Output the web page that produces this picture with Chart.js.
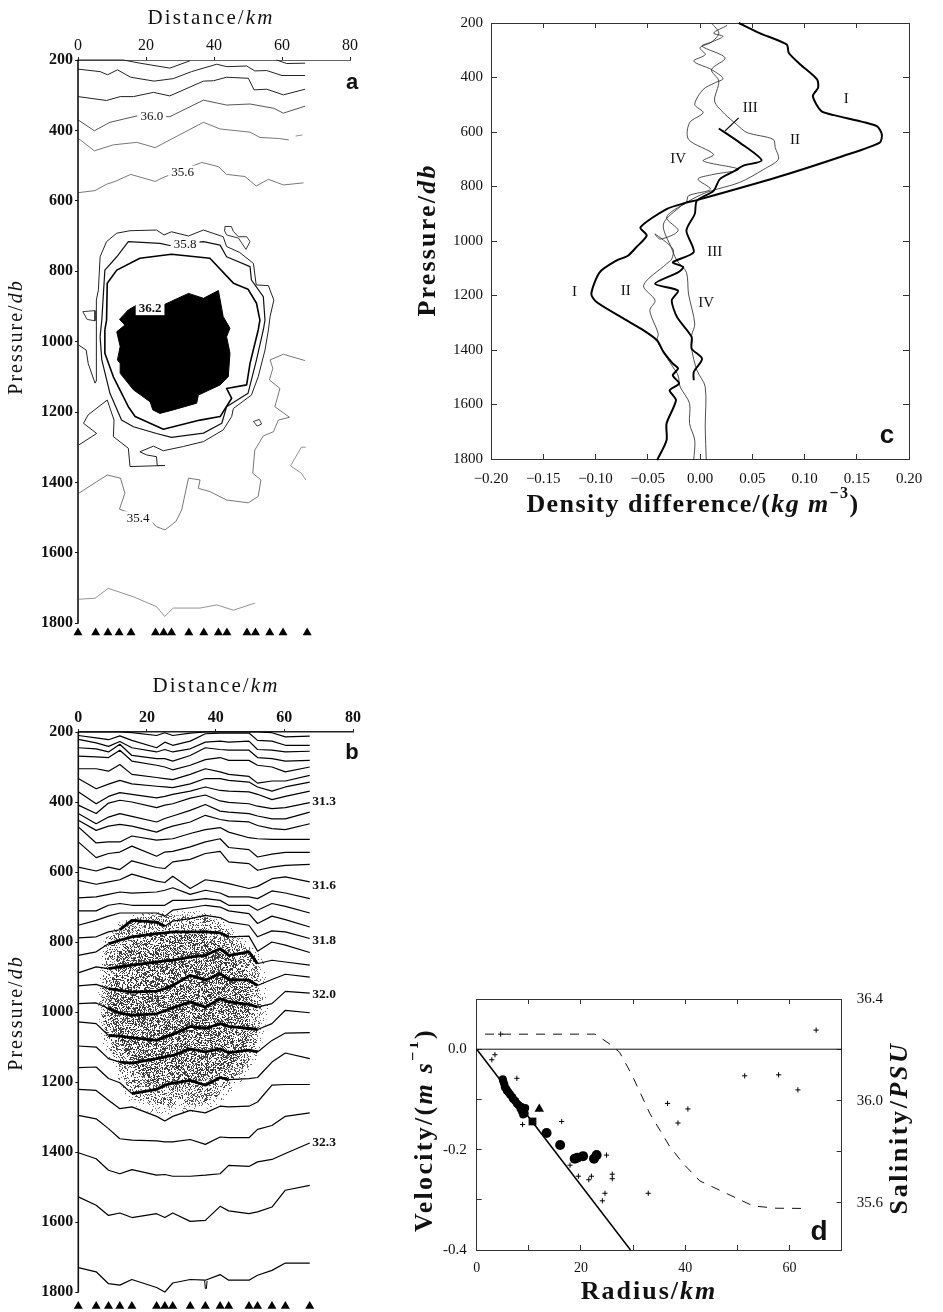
<!DOCTYPE html>
<html><head><meta charset="utf-8">
<style>html,body{margin:0;padding:0;background:#fff}body{width:943px;height:1312px;position:relative;overflow:hidden}canvas{position:absolute;display:block}</style>
<script src="https://cdn.jsdelivr.net/npm/chart.js@4"></script>
</head><body>
<canvas id="ca" width="400" height="660" style="left:0;top:0"></canvas>
<canvas id="cb" width="400" height="668" style="left:0;top:660px"></canvas>
<canvas id="cc" width="533" height="530" style="left:410px;top:0"></canvas>
<canvas id="cd" width="533" height="342" style="left:410px;top:970px"></canvas>
<script>
/* ---------- shared ---------- */
const stations=[0,5.2,8.8,12.1,15.6,22.8,25.2,27.5,32.6,37,41.3,43.8,49.7,52.2,56.4,60.3,67.4];
const pressureTicks=[200,400,600,800,1000,1200,1400,1600,1800];
const pressureAxisLine=[[0,200],[0,1800]];

/* ---------- panel a: salinity contours [km, db] ---------- */
const aC1a=[[0,200],[13.3,200],[18.2,209],[27,223],[33,202]];
const aC1b=[[58.4,200],[61.4,210],[66.8,209]];
const aC2=[[0,226],[6.5,233],[8.7,242],[11.6,228],[15.5,249],[22.4,260],[28,253],[33.4,233],[40.8,212],[43.8,219],[49.6,217],[52,231],[55.5,230],[60,244],[66.8,244]];
const aC3=[[0,304],[8.4,315],[12.4,304],[16.3,304],[22.2,292],[27,302],[36.9,260],[39.8,259],[43.7,249],[50.1,252],[51.8,285],[55.5,283],[60.4,299],[66.8,283]];
const aC4=[[0,370],[4.8,401],[9.4,377],[17.3,359],[27,361],[36.9,314],[43.7,328],[50.6,325],[57.5,337],[60.4,351],[66.8,331]];
const aC5a=[[0,422],[4.8,458],[10.4,441],[17.3,434],[22.7,449],[28,422],[36.9,377],[41.8,396],[50.6,405],[53.5,420],[59,423],[62,427]];
const aC5b=[[64,416],[66,413]];
const aC6=[[0,577],[5,571],[8.4,553],[10.9,545],[15.5,525],[22.7,545],[25,534],[36.4,491],[41.3,503],[43.7,525],[49.1,531],[52.4,558],[56,539],[60.4,555],[66.3,549]];
const aOuter=[[0.2,1010],[2.4,1024],[3,1062],[5,1118],[5.5,1109],[5.5,986],[5.3,882],[6,853],[6.5,759],[8.4,716],[11.4,692],[15.3,685],[23.1,683],[25.3,697],[27.5,688],[32.5,700],[36.9,683],[42.7,702],[43.7,730],[47.6,747],[51.6,778],[52.4,839],[56,841],[57.6,882],[56.5,929],[56,967],[55,1024],[53,1100],[51,1152],[45.7,1190],[45.2,1213],[42.7,1251],[36.9,1284],[31,1298],[25.1,1310],[22.2,1297],[18.2,1313],[20.2,1322],[23.1,1327],[23.3,1352],[25.6,1352],[15.3,1355],[14.8,1303],[10.4,1270],[10.6,1223],[8.6,1166],[3,1208],[1.6,1232],[5.5,1261],[0.2,1294]];
const aMiddle=[[6.5,986],[7,939],[7.9,797],[11.4,759],[14.8,716],[24.1,721],[27,727],[36.9,716],[41.8,726],[43.7,759],[50.6,787],[51,825],[54.5,872],[55,939],[54.5,967],[52.5,1052],[50,1147],[43.7,1185],[42.3,1232],[36.9,1260],[27.5,1272],[23.1,1261],[16.3,1242],[12.8,1223],[9.4,1147],[7,1052],[6.5,986]];
const aInner=[[7.9,967],[8.4,939],[8.6,834],[11.4,797],[18.2,763],[27.5,752],[38.8,763],[45.7,834],[50,851],[52.5,891],[53.5,939],[53,967],[50.6,1062],[49.6,1123],[43.7,1133],[45.2,1161],[41.8,1213],[35.9,1223],[25.1,1249],[16.8,1213],[14.8,1185],[10.4,1100],[7.9,1033],[7.9,967]];
const aCore=[[12.2,937],[14.8,910],[17.3,896],[25.1,896],[32.5,863],[36.9,877],[41.3,855],[42.7,929],[44.7,962],[43.7,986],[44.7,1033],[44.2,1100],[41.8,1123],[35.4,1152],[34.9,1175],[28,1194],[24.1,1204],[22,1194],[21.2,1171],[16.3,1137],[12.4,1090],[12.4,1062],[11.6,1052],[12.4,1014],[11.4,972],[13.8,953],[12.2,937]];
const aIslandTop=[[43.2,673],[45.1,673],[45.7,687],[47.2,702],[49.6,702],[50.6,716],[49.4,738],[47.2,706],[43.7,697],[43,683],[43.2,673]];
const aIslandLeft=[[1.4,915],[5,912],[5,941],[2.7,937],[1.4,915]];
const aIslandRight=[[51.6,1227],[53.3,1221],[54,1234],[52.7,1240],[51.6,1227]];
const aC354=[[66.8,1054],[60.4,1036],[56.5,1052],[57.3,1076],[56.3,1109],[59.4,1133],[57.9,1185],[62.2,1215],[58.9,1223],[57.5,1256],[54.5,1268],[52,1308],[51.4,1374],[53.8,1393],[53,1440],[50.1,1458],[43.7,1450],[38.8,1426],[35.4,1417],[35.9,1393],[32.5,1388],[30.5,1478],[28.8,1511],[25.6,1535],[23.1,1526],[21.2,1507],[12.2,1476],[13.8,1431],[12.5,1388],[8.6,1379],[5.5,1398],[0.2,1431]];
const aRightBit=[[67,1300],[65.7,1300],[62.5,1353],[65.7,1374],[67,1393]];
const aDeep=[[0.2,1732],[5,1729],[8.9,1701],[16.3,1725],[23.1,1753],[25.5,1781],[28,1757],[35.9,1757],[40.8,1748],[45.7,1763],[52,1743]];

/* ---------- panel b: density contours, pressure at each station ---------- */
const b01=[200,200,200,200,202,210,202,210,203,200,200,200,200,200,202,214,212];
const b02=[210,217,222,211,224,245,229,238,226,205,203,203,203,224,226,238,238];
const b03=[221,231,241,227,245,257,250,257,248,229,226,229,226,250,252,257,255];
const b04=[245,248,257,235,267,276,276,283,267,245,250,252,252,273,276,283,281];
const b05=[269,271,273,252,283,295,300,308,295,279,273,281,281,295,300,314,300];
const b06=[305,305,312,293,321,330,333,336,321,305,314,321,327,346,340,340,324];
const b07=[333,362,349,338,348,355,357,359,348,333,333,338,343,357,369,357,343];
const b08=[371,405,384,373,378,388,384,378,369,357,367,369,371,378,393,384,369];
const b09=[409,433,403,395,400,416,409,405,389,380,397,401,405,412,419,416,402];
const b10=[433,462,443,433,441,457,447,440,424,407,426,429,433,440,448,448,429];
const b11=[452,481,469,464,469,486,476,469,457,438,450,454,457,467,476,479,462];
const b12=[471,517,514,514,497,509,507,505,490,479,473,486,502,505,507,507,507];
const b13=[514,559,547,543,526,555,543,541,528,514,505,530,536,557,549,544,544];
const b14=[586,597,586,593,568,587,590,571,564,547,541,571,576,595,586,581,578];
const b15=[624,635,628,622,606,626,630,612,647,622,628,633,647,641,619,614,628];
const b16=[674,671,664,657,660,657,652,645,664,652,660,671,671,676,654,660,676];
const b17=[711,711,695,690,695,695,695,681,681,676,681,695,695,709,690,698,717];
const b18=[752,738,726,717,717,717,726,709,702,695,700,711,719,747,726,736,757];
const b19=[788,785,771,765,738,743,755,740,733,724,730,743,752,785,768,771,790];
const b20=[838,828,805,795,785,776,774,771,771,771,774,785,783,826,800,809,830];
const b21=[888,871,876,871,866,857,854,852,843,838,819,838,828,862,852,857,866];
const b22=[925,921,933,938,943,940,933,924,895,909,890,907,909,924,907,892,900];
const b23=[976,974,990,1003,1009,1005,997,988,971,986,962,971,978,986,976,941,946];
const b24=[1028,1033,1067,1069,1073,1081,1071,1064,1041,1047,1033,1041,1047,1050,1033,995,1002];
const b25=[1097,1100,1133,1143,1146,1133,1128,1124,1105,1114,1105,1116,1109,1114,1081,1060,1059];
const b26=[1159,1157,1190,1202,1233,1221,1209,1203,1195,1209,1187,1193,1190,1187,1143,1117,1133];
const b27=[1221,1224,1252,1276,1271,1298,1311,1298,1281,1288,1269,1271,1269,1257,1209,1207,1207];
const b28=[1295,1305,1333,1362,1366,1368,1371,1371,1364,1378,1357,1359,1359,1335,1324,1298,1288];
const b29=[1402,1419,1452,1462,1450,1466,1464,1469,1469,1466,1462,1438,1441,1428,1421,1404,1374];
const b30=[1528,1552,1581,1574,1587,1576,1587,1574,1598,1595,1555,1568,1576,1571,1557,1509,1495];
const b31=[1730,1742,1776,1780,1764,1787,1800,1774,1764,1766,1750,1766,1766,1752,1738,1717,1717];
const bSpike=[[36.8,1768],[37,1790],[37.3,1790],[37.5,1768]];
const bShadeFringe=[[5.8,930],[7.5,790],[12.5,738],[16,722],[23,712],[36,712],[41.5,730],[47,782],[54,840],[55,938],[55.3,990],[54.3,1050],[53.5,1100],[51,1155],[45.5,1222],[41,1262],[36,1283],[27.7,1293],[21,1288],[15,1262],[11,1180],[7.2,1090],[5.8,1005],[5.8,930]];
const bShadeOuter=[[6.8,938],[8.3,795],[13.1,747],[16,733],[22.8,724],[35.5,724],[40.3,738],[45.2,785],[52,843],[53,938],[53.4,986],[52.5,1043],[52,1090],[49.6,1143],[44.2,1205],[40.3,1243],[35.5,1262],[27.7,1271],[22.8,1266],[16,1243],[12.1,1166],[8.3,1081],[6.8,1005],[6.8,938]];
const bShadeInner=[[9,930],[12,815],[22,775],[35,770],[43,815],[50,890],[50,1000],[49,1100],[42,1180],[30,1215],[20,1200],[14,1120],[9,1020],[9,930]];

/* ---------- panel c: density difference, [kg/m3, db] ---------- */
const cI=[[.037,200],[.057,237],[.083,279],[.085,310],[.096,352],[.112,407],[.113,438],[.108,468],[.116,523],[.128,538],[.169,578],[.174,609],[.172,639],[.137,688],[.073,767],[-.003,850],[-.013,859],[-.032,883],[-.057,950],[-.051,980],[-.061,1023],[-.069,1054],[-.08,1072],[-.096,1115],[-.104,1194],[-.099,1224],[-.073,1285],[-.054,1328],[-.041,1365],[-.035,1407],[-.026,1450],[-.021,1468],[-.026,1493],[-.02,1523],[-.029,1548],[-.023,1584],[-.032,1670],[-.032,1731],[-.041,1804]];
const cII=[[.026,209],[.013,237],[.022,249],[.011,270],[.002,285],[.024,328],[.011,371],[.018,413],[.014,487],[.024,535],[.035,572],[.045,602],[.07,627],[.072,657],[.075,700],[.061,737],[.038,785],[.006,822],[-.013,859],[-.032,913],[-.021,962],[-.038,993],[-.043,974],[-.026,1029],[-.027,1066],[-.032,1084],[-.054,1163],[-.043,1218],[-.048,1255],[-.04,1340],[-.041,1365],[-.033,1420],[-.026,1462],[-.021,1493],[-.019,1535],[-.01,1596],[-.01,1670],[-.005,1731],[-.006,1804]];
const cIII=[[.018,587],[.038,639],[.059,704],[.041,724],[.033,743],[.019,773],[.013,816],[-.003,852],[-.005,901],[-.013,962],[-.006,1041],[-.026,1078],[-.016,1096],[-.021,1115],[-.043,1157],[-.021,1182],[-.027,1218],[-.022,1279],[-.008,1352],[-.008,1395],[.002,1432],[-.006,1481],[-.006,1511]];
const cIV=[[.011,200],[.018,237],[.011,270],[0,291],[.005,316],[-.006,340],[.011,371],[.022,404],[.014,420],[.003,444],[-.005,499],[.003,529],[-.01,566],[-.011,627],[.013,682],[.003,706],[.037,737],[.011,757],[-.002,773],[.01,810],[-.011,834],[-.013,859],[-.018,871],[-.035,938],[-.027,1029],[-.022,1072],[-.013,1115],[-.011,1194],[-.005,1304],[-.008,1346],[-.008,1395],[-.003,1474],[.005,1535],[.005,1682],[.006,1804]];
const cLeader=[[.024,596],[.037,548]];

/* ---------- panel d ---------- */
const dZero=[[0,0],[70,0]];
const dSolid=[[0,0],[29.5,-.4]];
const dSalinity=[[1.6,36.262],[22.7,36.262],[25.2,36.228],[27.4,36.191],[29.7,36.105],[33.2,35.951],[37,35.822],[39.6,35.754],[42.8,35.686],[47.9,35.637],[53,35.588],[57.4,35.579],[63.5,35.578]];
const dCrosses=[[2.9,-.021],[3.5,-.011],[7.7,-.058],[8.8,-.15],[16.3,-.144],[17.9,-.231],[19.5,-.253],[21.5,-.26],[22,-.253],[24.1,-.302],[24.6,-.287],[24.9,-.211],[26,-.249],[26,-.258],[32.9,-.287],[36.6,-.108],[38.6,-.147],[40.5,-.119],[51.4,-.053],[57.9,-.051],[61.6,-.081],[65.1,.038],[4.6,.03]];
const dCirclesSmall=[[5.0,-.06],[5.1,-.064],[5.3,-.07],[5.4,-.076],[5.7,-.08],[5.8,-.083],[6.1,-.086],[6.4,-.09],[6.8,-.095],[7,-.099],[7.4,-.103],[7.7,-.108],[8,-.111],[8.2,-.113],[8.4,-.118],[8.6,-.121],[8.7,-.124],[8.9,-.127],[9.1,-.12],[9.3,-.117],[8.6,-.115],[8.9,-.13],[9.2,-.128]];
const dCirclesLarge=[[13.4,-.167],[16,-.191],[18.8,-.218],[19.3,-.216],[20.4,-.213],[22.5,-.218],[23,-.211]];
const dTriangle=[[12,-.119]];
const dSquare=[[10.7,-.144]];

/* ---------- helpers ---------- */
const SERIF='"Liberation Serif"',SANS='"Liberation Sans"';
Chart.defaults.color='#111';
Chart.defaults.animation=false;

const richText={id:'richText',afterDraw(chart,args,opts){
  const ctx=chart.ctx;
  (opts.labels||[]).forEach(l=>{
    const px=chart.scales.x.getPixelForValue(l.x),py=chart.scales.y.getPixelForValue(l.y);
    ctx.save();ctx.font=l.font;ctx.textAlign='center';ctx.textBaseline='middle';
    if(l.bg){const w=ctx.measureText(l.text).width+6;ctx.fillStyle='#fff';ctx.fillRect(px-w/2,py-7,w,14);}
    ctx.fillStyle=l.color||'#111';ctx.fillText(l.text,px,py);ctx.restore();
  });
  (opts.titles||[]).forEach(t=>{
    ctx.save();
    const spacing=t.spacing||0;ctx.letterSpacing=spacing+'px';
    const fontOf=r=>`${r.i?'italic ':''}${t.weight||'normal'} ${r.sup?Math.round(t.size*.62):t.size}px ${t.family||SERIF}`;
    let total=0;t.runs.forEach(r=>{ctx.font=fontOf(r);total+=ctx.measureText(r.t).width;});
    ctx.translate(t.x-opts.ox,t.y-opts.oy);if(t.rot)ctx.rotate(t.rot);
    ctx.textAlign='left';ctx.textBaseline='middle';ctx.fillStyle='#111';
    let x=-total/2;
    t.runs.forEach(r=>{ctx.font=fontOf(r);ctx.fillText(r.t,x,r.sup?-t.size*.42:0);x+=ctx.measureText(r.t).width;});
    ctx.letterSpacing='0px';ctx.restore();
  });
}};
Chart.register(richText);

function stipple(density,color,seed){
  const c=document.createElement('canvas');c.width=c.height=256;
  const g=c.getContext('2d');g.fillStyle=color;
  let s=seed;
  for(let j=0;j<256;j++)for(let i=0;i<256;i++){
    s=(Math.imul(s,1103515245)+12345)&0x7fffffff;
    if(((s>>>10)%1000)/1000<density)g.fillRect(i,j,1,1);
  }
  return g.createPattern(c,'repeat');
}
const line=(data,w,color,extra)=>Object.assign({type:'scatter',data,showLine:true,borderColor:color||'#111',borderWidth:w,pointRadius:0,tension:0,fill:false,clip:false,borderJoinStyle:'round'},extra||{});
const marks=(data,style,r,extra)=>Object.assign({type:'scatter',data,showLine:false,pointStyle:style,pointRadius:r,pointBackgroundColor:'#000',pointBorderColor:'#000',pointBorderWidth:0,clip:false},extra||{});
const fixedW=n=>s=>{s.width=n};
const fixedH=n=>s=>{s.height=n};
const baseOpts=(extra)=>Object.assign({responsive:false,maintainAspectRatio:false,animation:false,events:[]},extra);

function pressureAxis(font,left,tick,pad,max){
  return {position:'left',reverse:true,min:200,max,afterFit:fixedW(left),
    afterBuildTicks:s=>{s.ticks=pressureTicks.map(value=>({value}))},
    border:{display:false},
    grid:{drawOnChartArea:false,drawTicks:true,tickLength:tick,color:'#111',tickColor:'#111'},
    ticks:{font,color:'#111',padding:pad,autoSkip:false,maxRotation:0,callback:v=>String(v)}};
}
function distanceAxis(font,top,bw){
  return {position:'top',min:0,max:80,afterFit:fixedH(top),
    border:{display:true,color:'#222',width:bw},
    grid:{drawOnChartArea:false,tickLength:3,color:'#222'},
    ticks:{font,color:'#111',stepSize:20,padding:2,autoSkip:false,maxRotation:0}};
}
const triangles=y=>stations.map(s=>[s,y]);

/* ---------- panel a ---------- */
new Chart(document.getElementById('ca'),{type:'scatter',data:{datasets:[
  line(pressureAxisLine,1.6,'#111'),
  ...[aC1a,aC1b,aC2,aC3].map(d=>line(d,1,'#222')),
  line(aC4,.9,'#444'),line(aC5a,.8,'#555'),line(aC5b,.8,'#777'),line(aC6,.8,'#555'),
  line(aOuter,1,'#222'),line(aMiddle,1.2,'#111'),line(aInner,1.6,'#000'),
  line(aCore,1,'#000',{fill:'shape',backgroundColor:'#000'}),
  line(aIslandTop,.9,'#222'),line(aIslandLeft,.9,'#222'),line(aIslandRight,.9,'#222'),
  line(aC354,.8,'#555'),line(aRightBit,.8,'#777'),line(aDeep,.8,'#777'),
  marks(triangles(1827),'triangle',5.2)
]},options:baseOpts({layout:{padding:{right:50,bottom:19.2}},
  plugins:{legend:{display:false},tooltip:{enabled:false},richText:{ox:0,oy:0,
    labels:[{x:21.7,y:361,text:'36.0',font:`13px ${SERIF}`,bg:1},{x:30.8,y:520,text:'35.6',font:`13px ${SERIF}`,bg:1},
      {x:31.5,y:723,text:'35.8',font:`13px ${SERIF}`,bg:1},{x:21.2,y:905,text:'36.2',font:`bold 13px ${SERIF}`,bg:1},
      {x:17.7,y:1502,text:'35.4',font:`13px ${SERIF}`,bg:1}],
    titles:[{x:211,y:18,size:21,spacing:2.1,runs:[{t:'Distance/'},{t:'km',i:1}]},
      {x:17,y:337,size:20,spacing:2,rot:-Math.PI/2,runs:[{t:'Pressure/'},{t:'db',i:1}]},
      {x:352,y:83,size:22,weight:'bold',family:SANS,runs:[{t:'a'}]}]}},
  scales:{x:distanceAxis({family:SERIF,size:16},60,.7),y:pressureAxis({family:SERIF,size:16,weight:'bold'},78,3,2,1850)}})});

/* ---------- panel b ---------- */
const bLevels=[b01,b02,b03,b04,b05,b06,b07,b08,b09,b10,b11,b12,b13,b14,b15,b16,b17,b18,b19,b20,b21,b22,b23,b24,b25,b26,b27,b28,b29,b30,b31];
const bThick=new Map([[b19,[12,25.5]],[b20,[7,45]],[b21,[7,52.5]],[b22,[7,52.5]],[b23,[7,52.5]],[b24,[7,52.5]],[b25,[9,52.5]],[b26,[13,44.5]]]);
const bLine=p=>{
  const r=bThick.get(p);
  const extra=r?{segment:{borderWidth:c=>(c.p0.parsed.x>=r[0]&&c.p1.parsed.x<=r[1])?2.8:1.2}}:{};
  return line(stations.map((s,i)=>[s,p[i]]),1.2,'#000',extra);
};
new Chart(document.getElementById('cb'),{type:'scatter',data:{datasets:[
  line(pressureAxisLine,1.6,'#111'),
  ...bLevels.map(bLine),line(bSpike,1,'#000'),
  marks(triangles(1840),'triangle',5.2),
  line(bShadeInner,0,'rgba(0,0,0,0)',{fill:'shape',backgroundColor:stipple(.24,'#333',777),order:5}),
  line(bShadeOuter,0,'rgba(0,0,0,0)',{fill:'shape',backgroundColor:stipple(.24,'#444',4242),order:6}),
  line(bShadeFringe,0,'rgba(0,0,0,0)',{fill:'shape',backgroundColor:stipple(.1,'#666',90210),order:7})
]},options:baseOpts({layout:{padding:{right:47,bottom:17}},
  plugins:{legend:{display:false},tooltip:{enabled:false},richText:{ox:0,oy:660,
    labels:[[400,'31.3'],[638,'31.6'],[797,'31.8'],[949,'32.0'],[1374,'32.3']].map(([y,text])=>({x:71.6,y,text,font:`bold 13.5px ${SERIF}`})),
    titles:[{x:216,y:686,size:21,spacing:2.1,runs:[{t:'Distance/'},{t:'km',i:1}]},
      {x:17,y:1013,size:20,spacing:2,rot:-Math.PI/2,runs:[{t:'Pressure/'},{t:'db',i:1}]},
      {x:352,y:753,size:22,weight:'bold',family:SANS,runs:[{t:'b'}]}]}},
  scales:{x:distanceAxis({family:SERIF,size:16,weight:'bold'},72,1.6),y:pressureAxis({family:SERIF,size:16,weight:'bold'},78.3,3,2,1854)}})});

/* ---------- panel c ---------- */
const boxAxisStyle=(tl)=>({border:{display:true,color:'#333',width:1},grid:{drawOnChartArea:false,tickLength:tl,color:'#333'}});
const fmtC=v=>{const a=Math.abs(v)<1e-9?0:v;return (a<0?'\u2212':'')+Math.abs(a).toFixed(2)};
new Chart(document.getElementById('cc'),{type:'scatter',data:{datasets:[
  line(cI,2,'#000',{tension:.25}),line(cIII,1.9,'#000',{tension:.25}),line(cII,.8,'#222',{tension:.3}),line(cIV,.8,'#222',{tension:.3}),line(cLeader,1.2,'#000')
]},options:baseOpts({
  plugins:{legend:{display:false},tooltip:{enabled:false},richText:{ox:410,oy:0,
    labels:[[.14,479,'I'],[.091,629,'II'],[.048,512,'III'],[-.021,698,'IV'],[.014,1039,'III'],[-.12,1189,'I'],[-.071,1185,'II'],[.006,1229,'IV']]
      .map(([x,y,text])=>({x,y,text,font:`15px ${SERIF}`})),
    titles:[{x:693,y:505,size:26,weight:'bold',spacing:1.4,runs:[{t:'Density difference/('},{t:'kg m',i:1},{t:'\u22123',sup:1},{t:')'}]},
      {x:428,y:240,size:26,weight:'bold',spacing:2.2,rot:-Math.PI/2,runs:[{t:'Pressure/'},{t:'db',i:1}]},
      {x:887,y:436,size:26,weight:'bold',family:SANS,runs:[{t:'c'}]}]}},
  scales:{
    x:Object.assign({position:'bottom',min:-.2,max:.2,afterFit:fixedH(71),ticks:{font:{family:SERIF,size:15},color:'#111',stepSize:.05,padding:16,autoSkip:false,maxRotation:0,callback:fmtC}},boxAxisStyle(-5)),
    y:Object.assign({position:'left',reverse:true,min:200,max:1800,afterFit:fixedW(81),afterBuildTicks:s=>{s.ticks=pressureTicks.map(value=>({value}))},ticks:{font:{family:SERIF,size:15},color:'#111',padding:14,autoSkip:false,callback:v=>String(v)}},boxAxisStyle(-6)),
    x2:Object.assign({position:'top',min:-.2,max:.2,afterFit:fixedH(21.7),ticks:{display:false,stepSize:.05}},boxAxisStyle(-5)),
    y2:Object.assign({position:'right',reverse:true,min:200,max:1800,afterFit:fixedW(34),afterBuildTicks:s=>{s.ticks=pressureTicks.map(value=>({value}))},ticks:{display:false}},boxAxisStyle(-6))
  }})});

/* ---------- panel d ---------- */
const near=(v,list)=>list.some(x=>Math.abs(x-v)<1e-6);
new Chart(document.getElementById('cd'),{type:'scatter',data:{datasets:[
  line(dZero,1,'#111'),line(dSolid,1.5,'#000'),
  line(dSalinity,1,'#111',{borderDash:[9,8],yAxisID:'y2'}),
  marks(dCrosses,'cross',2.6,{pointBorderWidth:1}),
  marks(dCirclesSmall,'circle',4),marks(dCirclesLarge,'circle',5),marks(dTriangle,'triangle',5.5),marks(dSquare,'rect',5.5)
]},options:baseOpts({
  plugins:{legend:{display:false},tooltip:{enabled:false},richText:{ox:410,oy:970,
    titles:[{x:649,y:1292,size:26,weight:'bold',spacing:2,runs:[{t:'Radius/'},{t:'km',i:1}]},
      {x:425,y:1130,size:26,weight:'bold',spacing:2.3,rot:-Math.PI/2,runs:[{t:'Velocity/('},{t:'m s',i:1},{t:'\u22121',sup:1},{t:')'}]},
      {x:900,y:1128,size:26,weight:'bold',spacing:2.6,rot:-Math.PI/2,runs:[{t:'Salinity/'},{t:'PSU',i:1}]},
      {x:819,y:1232,size:28,weight:'bold',family:SANS,runs:[{t:'d'}]}]}},
  scales:{
    x:Object.assign({position:'bottom',min:0,max:70,afterFit:fixedH(62),ticks:{font:{family:SERIF,size:14},color:'#111',stepSize:10,padding:15,autoSkip:false,maxRotation:0,callback:v=>v%20===0?String(v):''}},boxAxisStyle(-5)),
    y:Object.assign({position:'left',min:-.4,max:.1,afterFit:fixedW(66.7),ticks:{font:{family:SERIF,size:15},color:'#111',stepSize:.1,padding:15,autoSkip:false,callback:v=>near(v,[0,-.2,-.4])?v.toFixed(1):''}},boxAxisStyle(-5)),
    x2:Object.assign({position:'top',min:0,max:70,afterFit:fixedH(13.3),ticks:{display:false,stepSize:10}},boxAxisStyle(-5)),
    y2:Object.assign({position:'right',min:35.415,max:36.4,afterFit:fixedW(101.3),afterBuildTicks:s=>{s.ticks=[36.4,36.2,36,35.8,35.6].map(value=>({value}))},ticks:{font:{family:SERIF,size:15},color:'#111',padding:20,autoSkip:false,callback:v=>near(v,[36.4,36,35.6])?v.toFixed(1):''}},boxAxisStyle(-5))
  }})});
</script>
</body></html>
